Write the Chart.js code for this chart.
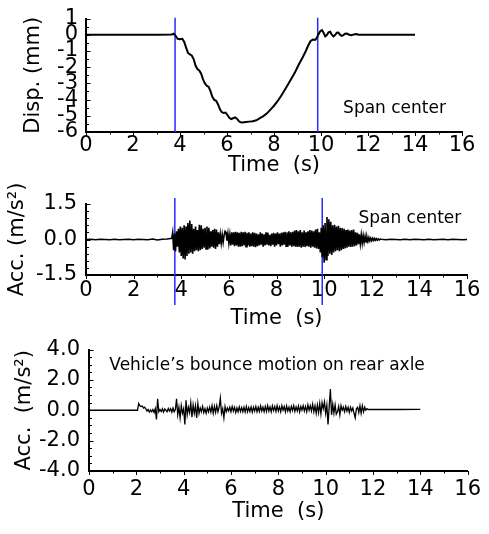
<!DOCTYPE html>
<html>
<head>
<meta charset="utf-8">
<script src="https://cdn.jsdelivr.net/npm/chart.js@4.4.1/dist/chart.umd.min.js"></script>
<style>
  html, body { margin: 0; padding: 0; background: #fff; }
  .panel { position: absolute; left: 0; width: 489px; }
</style>
</head>
<body>
<div class="panel" style="top:0;height:180px"><canvas id="disp"></canvas></div>
<div class="panel" style="top:180px;height:150px"><canvas id="acc1"></canvas></div>
<div class="panel" style="top:330px;height:204px"><canvas id="acc2"></canvas></div>
<script>
// ---- data ----
const timeTicks = [0, 2, 4, 6, 8, 10, 12, 14, 16];

// span center displacement (mm)
const dispTime = [0, 1, 2, 3, 3.65, 3.72, 3.8, 3.9, 4.0, 4.1, 4.18, 4.26, 4.34, 4.42, 4.5, 4.58, 4.66, 4.74, 4.82,
  4.9, 4.98, 5.06, 5.14, 5.22, 5.3, 5.38, 5.46, 5.54, 5.62, 5.7, 5.78, 5.86, 5.94, 6.02, 6.1, 6.18, 6.26, 6.34,
  6.42, 6.5, 6.58, 6.66, 6.8, 6.95, 7.1, 7.25, 7.4, 7.55, 7.7, 7.85, 8.0, 8.15, 8.3, 8.45, 8.6, 8.75, 8.9, 9.05,
  9.2, 9.35, 9.45, 9.55, 9.65, 9.75, 9.82, 9.9, 9.97, 10.04, 10.11, 10.18, 10.25, 10.32, 10.39, 10.46, 10.53,
  10.6, 10.67, 10.74, 10.81, 10.88, 10.95, 11.02, 11.1, 11.2, 11.3, 11.4, 11.5, 11.6, 12, 13, 14];
const dispValue = [0, 0, 0, 0, 0.02, 0.06, -0.05, -0.25, -0.28, -0.25, -0.45, -0.8, -1.12, -1.22, -1.28, -1.5, -1.9,
  -2.12, -2.2, -2.4, -2.75, -3.0, -3.15, -3.22, -3.5, -3.85, -4.02, -4.08, -4.3, -4.6, -4.78, -4.82, -4.8, -4.95,
  -5.12, -5.2, -5.15, -5.1, -5.18, -5.32, -5.4, -5.42, -5.38, -5.36, -5.34, -5.28, -5.15, -5.02, -4.85, -4.62,
  -4.38, -4.1, -3.78, -3.42, -3.05, -2.68, -2.3, -1.85, -1.45, -1.02, -0.68, -0.4, -0.3, -0.32, -0.2, 0.05, 0.22,
  0.28, 0.12, -0.1, -0.02, 0.15, 0.18, 0.0, -0.1, -0.02, 0.12, 0.13, 0.0, -0.07, -0.03, 0.06, 0.07, 0.0, -0.03,
  0.02, 0.04, 0.0, 0, 0, 0];
const dispTicks = [1, 0, -1, -2, -3, -4, -5, -6];
const dispMarkers = [3.79, 9.86];

// span center acceleration (m/s2): quiet lead-in, burst, quiet tail
const accSpanLeadStart = 0, accSpanLeadStep = 0.2;
const accSpanLead = [0, 0.01, -0.01, 0.01, 0, -0.01, 0.01, -0.01, 0, 0.01, -0.01, 0.01, 0, -0.01, 0.02, -0.02, 0.01, 0.02];
const accSpanBurstStart = 3.6, accSpanBurstStep = 0.04;
const accSpanBurst = [
  0.05, 0.3, -0.45, 0.25, -0.5, 0.35, -0.3, 0.45, -0.55, 0.55,
  -0.7, 0.5, -0.8, 0.6, -0.84, 0.55, -0.7, 0.7, -0.6, 0.8,
  -0.55, 0.65, -0.6, 0.45, -0.5, 0.55, -0.45, 0.4, -0.5, 0.62,
  -0.45, 0.6, -0.4, 0.45, -0.35, 0.5, -0.4, 0.55, -0.42, 0.5,
  -0.38, 0.35, -0.3, 0.4, -0.35, 0.45, -0.4, 0.42, -0.3, 0.3,
  -0.2, 0.22, -0.15, 0.2, -0.12, 0.18, 0.35, 0.3, -0.05, 0.25,
  -0.15, 0.2, -0.25, 0.3, -0.22, 0.3, -0.28, 0.32, -0.25, 0.3,
  -0.3, 0.28, -0.3, 0.33, -0.28, 0.3, -0.25, 0.32, -0.3, 0.28,
  -0.25, 0.3, -0.3, 0.25, -0.28, 0.3, -0.3, 0.28, -0.32, 0.25,
  -0.28, 0.22, -0.25, 0.3, -0.22, 0.25, -0.3, 0.22, -0.25, 0.3,
  -0.22, 0.28, -0.25, 0.2, -0.28, 0.25, -0.22, 0.28, -0.3, 0.25,
  -0.25, 0.3, -0.2, 0.25, -0.3, 0.28, -0.25, 0.3, -0.22, 0.33,
  -0.28, 0.3, -0.3, 0.35, -0.25, 0.3, -0.3, 0.32, -0.28, 0.38,
  -0.3, 0.4, -0.32, 0.35, -0.3, 0.4, -0.35, 0.3, -0.3, 0.38,
  -0.32, 0.3, -0.28, 0.35, -0.3, 0.4, -0.35, 0.38, -0.3, 0.35,
  -0.35, 0.42, -0.38, 0.45, -0.4, 0.3, -0.55, 0.5, -0.75, 0.6,
  -0.98, 0.7, -0.85, 0.95, -0.7, 0.85, -0.6, 0.75, -0.65, 0.6,
  -0.55, 0.62, -0.5, 0.55, -0.45, 0.58, -0.5, 0.5, -0.45, 0.48,
  -0.4, 0.45, -0.38, 0.4, -0.35, 0.42, -0.3, 0.38, -0.32, 0.4,
  -0.3, 0.42, -0.28, 0.3, -0.25, 0.28, -0.2, 0.22, -0.18, 0.2,
  -0.15, 0.16, -0.12, 0.13, -0.1, 0.1, -0.08, 0.08, -0.06, 0.06,
  -0.05, 0.05, -0.04, 0.04, -0.03, 0.03, -0.03, 0.02, -0.02, 0.02];
const accSpanTailStart = 12.4, accSpanTailStep = 0.2;
const accSpanTail = [0.01, -0.01, 0.01, 0, -0.01, 0.01, -0.01, 0.01, 0, -0.01, 0.01, -0.01, 0, 0.01, -0.01, 0.01, 0, -0.01, 0];
const accSpanTicks = [1.5, 0, -1.5];
const accSpanMarkers = [3.73, 9.92];

// vehicle bounce acceleration on rear axle (m/s2)
const bounceLeadTime = [0];
const bounceLeadValue = [0];
const bounceBurstStart = 2.0, bounceBurstStep = 0.05;
const bounceBurst = [
  0, 0, 0.45, 0.3, 0.25, 0.28, 0.15, 0.2, 0.1, -0.05,
  0.05, -0.12, 0.02, -0.1, 0.05, -0.15, 0.1, -0.6, 0.75, -0.1,
  0.05, -0.08, 0.1, -0.12, 0.08, 0, -0.1, 0.12, -0.05, 0.1,
  -0.12, 0.15, -0.1, 0.05, 0.75, -0.3, 0.2, -0.5, 0.3, -0.2,
  0.1, -0.93, 0.65, -0.3, 0.2, -0.15, 0.5, -0.45, 0.35, -0.2,
  0.3, -0.5, 0.45, -0.2, 0.15, -0.1, 0.25, -0.15, 0.1, -0.2,
  0.15, -0.1, 0.2, -0.12, 0.3, -0.2, 0.25, -0.15, 0.3, -0.1,
  0.2, 0.8, -0.2, 0.1, -0.5, 0.25, -0.1, 0.15, -0.05, 0.2,
  -0.1, 0.25, -0.05, 0.2, -0.15, 0.15, -0.1, 0.22, -0.08, 0.18,
  -0.1, 0.2, -0.12, 0.25, -0.1, 0.18, -0.08, 0.22, -0.12, 0.2,
  -0.05, 0.25, -0.1, 0.2, -0.08, 0.28, -0.05, 0.2, -0.1, 0.25,
  -0.08, 0.3, -0.05, 0.22, -0.1, 0.28, -0.02, 0.25, -0.08, 0.3,
  -0.05, 0.22, -0.1, 0.3, 0.0, 0.25, -0.1, 0.28, -0.05, 0.2,
  -0.1, 0.25, -0.02, 0.3, -0.08, 0.22, -0.05, 0.28, -0.1, 0.25,
  0.0, 0.3, -0.05, 0.25, -0.1, 0.35, 0.0, 0.3, -0.05, 0.4,
  -0.1, 0.3, -0.2, 0.35, -0.15, 0.45, -0.25, 0.5, 0.1, 0.55,
  -0.2, 0.35, -0.93, 0.25, 1.4, -0.3, 0.4, -0.2, 0.35, -0.25,
  -0.1, 0.25, -0.3, 0.3, 0.0, 0.2, -0.1, 0.25, -0.05, 0.2,
  -0.15, 0.2, -0.05, 0.15, -0.2, -0.5, 0.1, 0.2, -0.15, 0.3,
  -0.2, 0.3, -0.1, 0.2, 0.0, 0.1, 0.05, 0.05, 0.05, 0.05,
  0.05];
const bounceTailTime = [13, 14];
const bounceTailValue = [0.05, 0.06];
const bounceTicks = [4, 2, 0, -2, -4];

// ---- helpers ----
Chart.defaults.font.family = '"DejaVu Sans", Verdana, sans-serif';
Chart.defaults.color = '#000';

function pairs(times, values) {
  return values.map((v, i) => ({ x: times[i], y: v }));
}
function sampled(start, step, values) {
  return values.map((v, i) => ({ x: +(start + i * step).toFixed(3), y: v }));
}
function markerLine(t, yTop, yBottom) {
  return {
    data: [{ x: t, y: yTop }, { x: t, y: yBottom }],
    borderColor: '#2a2aff', borderWidth: 1.5, pointRadius: 0, clip: false
  };
}

const tickMarks = {
  id: 'tickMarks',
  afterDraw(chart, args, o) {
    const ctx = chart.ctx, xs = chart.scales.x, ys = chart.scales.y, a = chart.chartArea;
    ctx.save();
    ctx.strokeStyle = '#000';
    ctx.lineWidth = 1;
    for (let v = xs.min; v <= xs.max + 1e-9; v += o.xMinor) {
      const px = Math.round(xs.getPixelForValue(v)) + 0.5;
      const major = Math.abs(v / 2 - Math.round(v / 2)) < 1e-6;
      ctx.beginPath();
      ctx.moveTo(px, a.bottom);
      ctx.lineTo(px, a.bottom + (major ? 4 : 2.5));
      ctx.stroke();
    }
    for (let v = ys.min; v <= ys.max + 1e-9; v += o.yMinor) {
      const py = Math.round(ys.getPixelForValue(v)) + 0.5;
      const major = Math.abs(v / o.yMajor - Math.round(v / o.yMajor)) < 1e-6;
      ctx.beginPath();
      ctx.moveTo(a.left, py);
      ctx.lineTo(a.left + (major ? 4.5 : 3), py);
      ctx.stroke();
    }
    ctx.font = '17px "DejaVu Sans", Verdana, sans-serif';
    ctx.fillStyle = '#000';
    ctx.textBaseline = 'alphabetic';
    ctx.fillText(o.note, xs.getPixelForValue(o.noteX), ys.getPixelForValue(o.noteY));
    ctx.restore();
  }
};

function makeChart(id, p) {
  const W = 489;
  return new Chart(document.getElementById(id), {
    type: 'line',
    data: { datasets: p.datasets },
    options: {
      responsive: true,
      maintainAspectRatio: false,
      animation: false,
      events: [],
      layout: { padding: { left: 0, top: p.area.top, right: W - p.area.right, bottom: 0 } },
      plugins: {
        legend: { display: false },
        tooltip: { enabled: false },
        tickMarks: { xMinor: 1, yMinor: p.yMinor, yMajor: p.yMajor, note: p.note, noteX: p.noteX, noteY: p.noteY }
      },
      scales: {
        x: {
          type: 'linear', min: 0, max: 16,
          grid: { display: false, drawTicks: false },
          border: { display: true, color: '#000', width: 2 },
          afterBuildTicks: s => { s.ticks = timeTicks.map(v => ({ value: v })); },
          afterFit: s => { s.height = p.height - p.area.bottom; },
          ticks: { autoSkip: false, maxRotation: 0, minRotation: 0, padding: p.xTickPad,
            font: { size: 21, lineHeight: 1 }, color: '#000' },
          title: { display: true, text: 'Time  (s)', color: '#000',
            font: { size: 21, lineHeight: 1 }, padding: { top: 0, bottom: p.xTitlePad } }
        },
        y: {
          type: 'linear', min: p.yMin, max: p.yMax,
          grid: { display: false, drawTicks: false },
          border: { display: true, color: '#000', width: 2 },
          afterBuildTicks: s => { s.ticks = p.yTicks.map(v => ({ value: v })); },
          afterFit: s => { s.width = p.area.left; },
          ticks: { autoSkip: false, padding: p.yTickPad, font: { size: 21, lineHeight: 1 }, color: '#000',
            callback: v => (v < 0 ? '-' : '') + Math.abs(v).toFixed(p.decimals) },
          title: { display: true, text: p.yTitle, color: '#000',
            font: { size: 21, lineHeight: 1 }, padding: { top: p.yTitlePad, bottom: 0 } }
        }
      }
    },
    plugins: [tickMarks]
  });
}

// ---- charts ----
makeChart('disp', {
  height: 180, area: { left: 86, right: 462, top: 16, bottom: 132 },
  yMin: -6, yMax: 1, yTicks: dispTicks, yMinor: 0.5, yMajor: 1, decimals: 0,
  yTitle: 'Disp. (mm)', yTitlePad: 23, yTickPad: 8, xTickPad: 3, xTitlePad: 4,
  note: 'Span center', noteX: 10.94, noteY: -4.85,
  datasets: [
    { data: pairs(dispTime, dispValue), borderColor: '#000', borderWidth: 2, pointRadius: 0, tension: 0 },
    markerLine(dispMarkers[0], 1.05, -6),
    markerLine(dispMarkers[1], 1.05, -6)
  ]
});

makeChart('acc1', {
  height: 150, area: { left: 86, right: 467, top: 24, bottom: 95 },
  yMin: -1.5, yMax: 1.5, yTicks: accSpanTicks, yMinor: 0.3, yMajor: 1.5, decimals: 1,
  yTitle: 'Acc. (m/s²)', yTitlePad: 7, yTickPad: 9, xTickPad: 5, xTitlePad: 1,
  note: 'Span center', noteX: 11.44, noteY: 0.71,
  datasets: [
    { data: sampled(accSpanLeadStart, accSpanLeadStep, accSpanLead)
        .concat(sampled(accSpanBurstStart, accSpanBurstStep, accSpanBurst))
        .concat(sampled(accSpanTailStart, accSpanTailStep, accSpanTail)),
      borderColor: '#000', borderWidth: 1.6, pointRadius: 0, tension: 0 },
    markerLine(accSpanMarkers[0], 1.75, -2.77),
    markerLine(accSpanMarkers[1], 1.75, -2.77)
  ]
});

makeChart('acc2', {
  height: 204, area: { left: 89, right: 472, top: 16, bottom: 141 },
  yMin: -4, yMax: 4, yTicks: bounceTicks, yMinor: 0.5, yMajor: 2, decimals: 1,
  yTitle: 'Acc.  (m/s²)', yTitlePad: 14, yTickPad: 9, xTickPad: 8, xTitlePad: 12,
  note: 'Vehicle’s bounce motion on rear axle', noteX: 0.86, noteY: 2.66,
  datasets: [
    { data: pairs(bounceLeadTime, bounceLeadValue)
        .concat(sampled(bounceBurstStart, bounceBurstStep, bounceBurst))
        .concat(pairs(bounceTailTime, bounceTailValue)),
      borderColor: '#000', borderWidth: 1.3, pointRadius: 0, tension: 0 }
  ]
});
</script>
</body>
</html>
